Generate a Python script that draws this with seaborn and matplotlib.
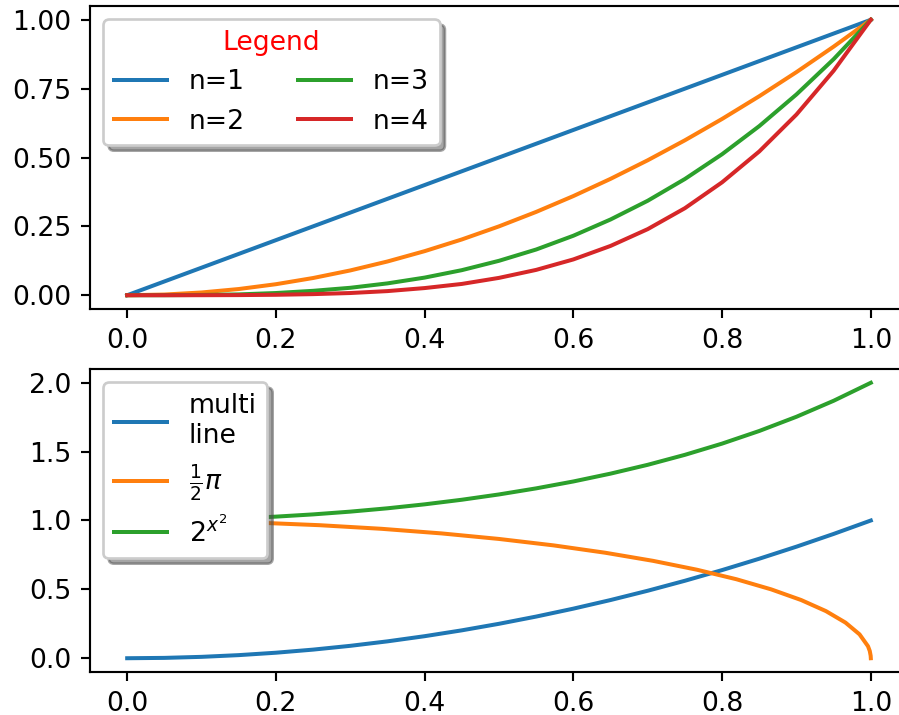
import numpy as np
import pandas as pd
import matplotlib
matplotlib.use("Agg")
import matplotlib.pyplot as plt
import seaborn as sns

# values
x_vals = [0.0, 0.05, 0.1, 0.15, 0.2, 0.25, 0.3, 0.35, 0.4, 0.45, 0.5,
          0.55, 0.6, 0.65, 0.7, 0.75, 0.8, 0.85, 0.9, 0.95, 1.0]
n1_vals = [0.0, 0.05, 0.1, 0.15, 0.2, 0.25, 0.3, 0.35, 0.4, 0.45, 0.5,
           0.55, 0.6, 0.65, 0.7, 0.75, 0.8, 0.85, 0.9, 0.95, 1.0]
n2_vals = [0.0, 0.0025, 0.01, 0.0225, 0.04, 0.0625, 0.09, 0.1225, 0.16, 0.2025, 0.25,
           0.3025, 0.36, 0.4225, 0.49, 0.5625, 0.64, 0.7225, 0.81, 0.9025, 1.0]
n3_vals = [0.0, 0.0001, 0.001, 0.003, 0.008, 0.016, 0.027, 0.043, 0.064, 0.091, 0.125,
           0.166, 0.216, 0.275, 0.343, 0.422, 0.512, 0.614, 0.729, 0.857, 1.0]
n4_vals = [0.0, 0.0, 0.0001, 0.0005, 0.0016, 0.004, 0.008, 0.015, 0.026, 0.041, 0.063,
           0.092, 0.130, 0.179, 0.240, 0.316, 0.410, 0.522, 0.656, 0.815, 1.0]
top_labels = ["n=1", "n=2", "n=3", "n=4"]

exp_vals = [1.0, 1.0017, 1.0070, 1.0157, 1.0281, 1.0443, 1.0644, 1.0886, 1.1173, 1.1507, 1.1892,
            1.2333, 1.2834, 1.3403, 1.4044, 1.4768, 1.5583, 1.6500, 1.7532, 1.8693, 2.0]
arc_x = [0.0, 0.0872, 0.1736, 0.2588, 0.3420, 0.4226, 0.5, 0.5736, 0.6428, 0.7071,
         0.7660, 0.8192, 0.8660, 0.9063, 0.9397, 0.9659, 0.9848, 0.9962, 0.9986, 0.9998, 1.0]
arc_y = [1.0, 0.9962, 0.9848, 0.9659, 0.9397, 0.9063, 0.8660, 0.8192, 0.7660, 0.7071,
         0.6428, 0.5736, 0.5, 0.4226, 0.3420, 0.2588, 0.1736, 0.0872, 0.0523, 0.0175, 0.0]
bottom_labels = ["multi\nline", r"$\frac{1}{2}\pi$", "$2^{x^2}$"]

top_yticks = [0.0, 0.25, 0.5, 0.75, 1.0]
bottom_yticks = [0.0, 0.5, 1.0, 1.5, 2.0]
xticks = [0.0, 0.2, 0.4, 0.6, 0.8, 1.0]

colors = sns.color_palette("tab10")

DPI = 192
fig, axs = plt.subplots(2, 1, figsize=(899 / DPI, 715 / DPI), dpi=DPI)

for ys, lab, col in zip([n1_vals, n2_vals, n3_vals, n4_vals], top_labels, colors):
    sns.lineplot(x=x_vals, y=ys, ax=axs[0], color=col, label=lab, sort=False)

leg = axs[0].legend(loc="upper left", bbox_to_anchor=[0, 1], ncols=2,
                    shadow=True, title="Legend", fancybox=True)
leg.get_title().set_color("red")

sns.lineplot(x=x_vals, y=n2_vals, ax=axs[1], color=colors[0], label=bottom_labels[0], sort=False)
sns.lineplot(x=arc_x, y=arc_y, ax=axs[1], color=colors[1], label=bottom_labels[1], sort=False)
sns.lineplot(x=x_vals, y=exp_vals, ax=axs[1], color=colors[2], label=bottom_labels[2], sort=False)
axs[1].legend(loc="upper left", shadow=True, fancybox=True)

axs[0].set_yticks(top_yticks)
axs[1].set_yticks(bottom_yticks)
for ax in axs:
    ax.set_xticks(xticks)

# the reference is cropped on the right, so the axes run past the edge
fig.subplots_adjust(left=90 / 899, right=908 / 899, top=1 - 6 / 715,
                    bottom=1 - 672 / 715, hspace=0.198)
fig.savefig("out.png", dpi=DPI)
